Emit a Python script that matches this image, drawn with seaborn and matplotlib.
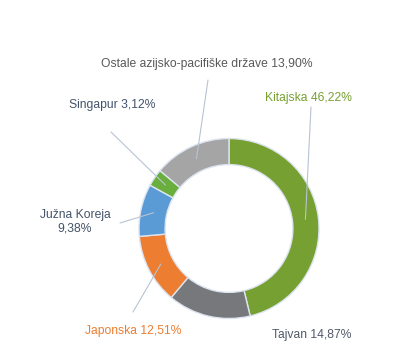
import numpy as np
import seaborn as sns
import matplotlib
matplotlib.use("Agg")
import matplotlib.pyplot as plt

# data
labels = ["Kitajska", "Tajvan", "Japonska", "Južna Koreja", "Singapur",
          "Ostale azijsko-pacifiške države"]
shares = [46.22, 14.87, 12.51, 9.38, 3.12, 13.90]
label_texts = ["Kitajska 46,22%", "Tajvan 14,87%", "Japonska 12,51%",
               "Južna Koreja\n9,38%", "Singapur 3,12%",
               "Ostale azijsko-pacifiške države 13,90%"]

colors = ["#77A033", "#77787B", "#ED7D31", "#5B9BD5", "#6AAF3D", "#A5A5A5"]
text_colors = ["#77A033", "#505A68", "#ED7D31", "#44546A", "#44546A", "#595959"]
# label centers and leader-line ends, in pixels from top-left
label_pos = [(308, 98), (312, 335), (133, 331), (75, 222), (112, 105), (207, 64)]
line_end = [(311, 107), None, (133, 312), (120, 223), (111, 132), (208, 80)]

sns.set_theme(style="white")
plt.rcParams["font.family"] = ["Liberation Sans", "DejaVu Sans"]

W, H = 393, 357
fig = plt.figure(figsize=(W / 100, H / 100), dpi=100)
ax = fig.add_axes([0, 0, 1, 1])

cx, cy, R = 229, H - 228.5, 90
ring = 0.29
wedges, _ = ax.pie(shares, colors=colors, startangle=90, counterclock=False,
                   center=(cx, cy), radius=R, frame=True,
                   wedgeprops=dict(width=R * ring, edgecolor="#DCE4F0", linewidth=1))
ax.set_xlim(0, W)
ax.set_ylim(0, H)
ax.set_aspect("equal")
ax.axis("off")

rmid = R * (1 - ring / 2)
for w, txt, tc, pos, le in zip(wedges, label_texts, text_colors, label_pos, line_end):
    ang = np.deg2rad((w.theta1 + w.theta2) / 2)
    sx, sy = cx + rmid * np.cos(ang), cy + rmid * np.sin(ang)
    if le is not None:
        ax.plot([sx, le[0]], [sy, H - le[1]], color="#B8C3D3", lw=0.8)
    ax.text(pos[0], H - pos[1], txt, color=tc, fontsize=8.7,
            ha="center", va="center", linespacing=1.15)

fig.savefig("out.png", dpi=100)
